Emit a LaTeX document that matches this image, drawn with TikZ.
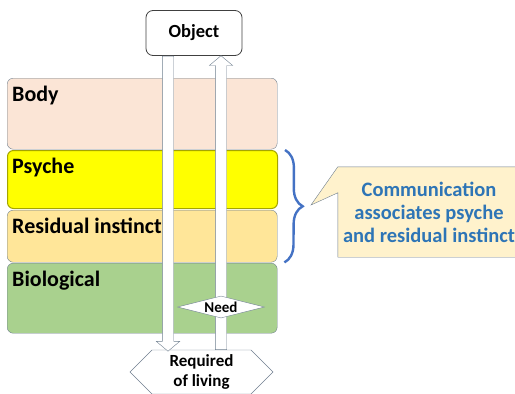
\documentclass[tikz,border=0pt]{standalone}
\usepackage{fontspec}
\setmainfont{Carlito}
\usetikzlibrary{positioning,calc,shapes.geometric,shapes.arrows,shapes.symbols,decorations.pathreplacing}

\definecolor{bodyfill}{HTML}{FBE5D6}
\definecolor{psychefill}{HTML}{FFFF00}
\definecolor{psycheedge}{HTML}{A5A500}
\definecolor{instfill}{HTML}{FFE699}
\definecolor{biofill}{HTML}{A9D18E}
\definecolor{edgegray}{HTML}{6F7F8F}
\definecolor{objedge}{HTML}{404040}
\definecolor{notefill}{HTML}{FFF2CC}
\definecolor{noteblue}{HTML}{2E75B6}
\definecolor{bracecol}{HTML}{4472C4}

\begin{document}
\begin{tikzpicture}[x=1pt,y=-1pt,
    layer/.style={draw=edgegray,rounded corners=6pt,minimum width=270pt,
        inner sep=0pt,anchor=north west},
    layername/.style={anchor=north west,inner sep=0pt,xshift=5pt,yshift=-8pt,
        font=\fontsize{22}{26}\selectfont\bfseries},
    arrowbody/.style={single arrow,draw=edgegray,fill=white,inner xsep=0pt,
        inner ysep=5.5pt,single arrow head extend=6pt,single arrow tip angle=100},
    blockarrow/.style={to path={let \p1=(\tikztostart),\p2=(\tikztotarget),
        \n1={veclen(\x2-\x1,\y2-\y1)},\n2={atan2(\y2-\y1,\x2-\x1)} in
        node[arrowbody,minimum height=\n1,rotate=\n2,anchor=tail] at (\tikztostart) {}}}
    ]

    \useasboundingbox (0,0) rectangle (515,394);

    % the four stacked layers
    \node[layer,fill=bodyfill,minimum height=71pt,
        label={[layername]north west:Body}] (body) at (7,78) {};
    \node[layer,fill=psychefill,draw=psycheedge,line width=1pt,minimum height=58pt,
        label={[layername]north west:Psyche}] (psyche) at (7,150) {};
    \node[layer,fill=instfill,minimum height=52pt,
        label={[layername]north west:Residual instinct}] (inst) at (7,210) {};
    \node[layer,fill=biofill,minimum height=70pt,
        label={[layername]north west:Biological}] (bio) at (7,263) {};

    % object on top, requirement at the bottom
    \node[draw=objedge,fill=white,rounded corners=7pt,line width=.8pt,
        minimum width=96pt,minimum height=45pt,
        font=\fontsize{18.5}{22}\selectfont\bfseries] (obj) at (194,33) {Object};
    \node[signal,signal to=west and east,signal pointer angle=90,draw=edgegray,
        fill=white,minimum width=143pt,minimum height=44pt,inner sep=0pt,align=center,
        font=\fontsize{17}{20}\selectfont\bfseries] (req) at (201.5,372) {Required\\of living};

    % hollow flow arrows
    \coordinate (downend) at (168,351);
    \coordinate (upline) at (221,307);
    \path (obj.south -| downend) to[blockarrow] (downend);
    \path (req.north -| upline) to[blockarrow] (obj.south -| upline);

    \node[diamond,aspect=4,draw=edgegray,fill=white,inner sep=0pt,
        minimum width=87pt,minimum height=22pt,
        font=\fontsize{15}{17}\selectfont\bfseries] (need) at (upline) {Need};

    % brace over psyche and residual instinct
    \draw[bracecol,line width=2.4pt,decorate,decoration={brace,amplitude=18pt}]
        ([xshift=7pt]psyche.north east) -- ([xshift=7pt]inst.south east);

    % callout
    \node[minimum width=182pt,minimum height=90pt] (note) at (429,212) {};
    \coordinate (notetip) at (311,205);
    \draw[edgegray,fill=notefill] (note.north west) -- (note.north east)
        -- (note.south east) -- (note.south west) -- ([yshift=-26pt]note.north west)
        -- (notetip) -- cycle;
    \node[text=noteblue,align=center,
        font=\fontsize{20.5}{23}\selectfont\bfseries] (notetext) at (note.center)
        {Communication\\associates psyche\\and residual instinct};

\end{tikzpicture}
\end{document}
